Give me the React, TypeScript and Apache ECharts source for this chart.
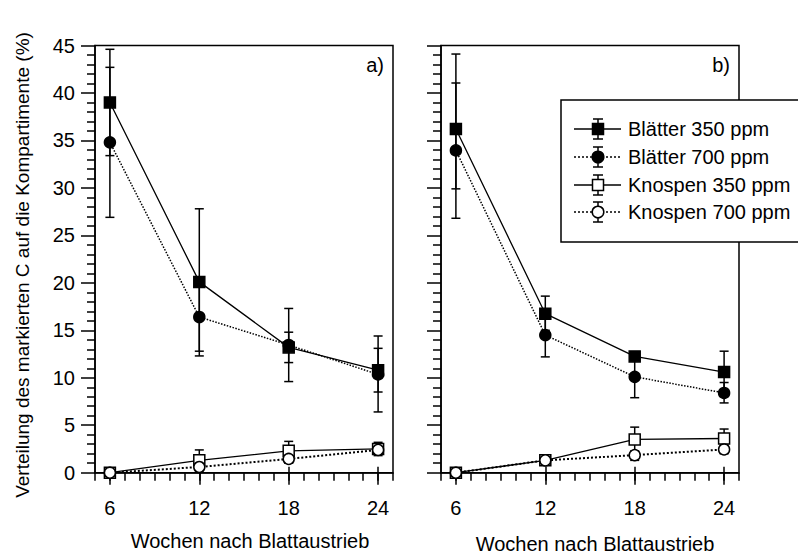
import React, { useEffect, useRef } from "react";
import * as echarts from "echarts";

// ---------- data ----------
const weeks = [6, 12, 18, 24];
const xTickLabels = [6, 12, 18, 24];
const yMax = 45;

const seriesNames = ["Blätter 350 ppm", "Blätter 700 ppm", "Knospen 350 ppm", "Knospen 700 ppm"];

// panel a)
const aBlaetter350 = [39.0, 20.1, 13.2, 10.8];
const aBlaetter350Lo = [33.4, 12.3, 11.6, 8.5];
const aBlaetter350Hi = [44.6, 27.8, 14.8, 13.1];
const aBlaetter700 = [34.8, 16.4, 13.45, 10.35];
const aBlaetter700Lo = [26.9, 12.8, 9.6, 6.4];
const aBlaetter700Hi = [42.7, 20.0, 17.3, 14.4];
const aKnospen350 = [0.0, 1.3, 2.3, 2.5];
const aKnospen350Lo = [0.0, 0.2, 1.3, 1.8];
const aKnospen350Hi = [0.0, 2.4, 3.3, 3.2];
const aKnospen700 = [0.0, 0.6, 1.45, 2.4];
const aKnospen700Lo = [0.0, 0.3, 1.0, 2.0];
const aKnospen700Hi = [0.0, 0.9, 1.9, 2.9];

// panel b)
const bBlaetter350 = [36.2, 16.75, 12.25, 10.6];
const bBlaetter350Lo = [29.9, 15.0, 11.9, 8.5];
const bBlaetter350Hi = [44.1, 18.6, 12.6, 12.8];
const bBlaetter700 = [33.95, 14.5, 10.1, 8.4];
const bBlaetter700Lo = [26.8, 12.2, 7.9, 7.35];
const bBlaetter700Hi = [41.05, 16.8, 12.3, 9.5];
const bKnospen350 = [0.0, 1.3, 3.5, 3.6];
const bKnospen350Lo = [0.0, 1.0, 2.2, 2.6];
const bKnospen350Hi = [0.0, 1.6, 4.8, 4.6];
const bKnospen700 = [0.0, 1.3, 1.85, 2.45];
const bKnospen700Lo = [0.0, 1.1, 1.3, 2.0];
const bKnospen700Hi = [0.0, 1.5, 2.3, 2.9];

const panelLabels = ["a)", "b)"];
const xTitle = "Wochen nach Blattaustrieb";
const yTitle = "Verteilung des markierten C auf die Kompartimente (%)";

// ---------- styles ----------
const FONT = "'Liberation Sans', Arial, Helvetica, sans-serif";
const BLACK = "#000";
const seriesStyle = [
  { symbol: "rect", filled: true, dash: "solid", width: 1.3 },
  { symbol: "circle", filled: true, dash: "dotted", width: 1.5 },
  { symbol: "rect", filled: false, dash: "solid", width: 1.3 },
  { symbol: "circle", filled: false, dash: "dotted", width: 2 },
];

const panels = [
  {
    vals: [aBlaetter350, aBlaetter700, aKnospen350, aKnospen700],
    lo: [aBlaetter350Lo, aBlaetter700Lo, aKnospen350Lo, aKnospen700Lo],
    hi: [aBlaetter350Hi, aBlaetter700Hi, aKnospen350Hi, aKnospen700Hi],
  },
  {
    vals: [bBlaetter350, bBlaetter700, bKnospen350, bKnospen700],
    lo: [bBlaetter350Lo, bBlaetter700Lo, bKnospen350Lo, bKnospen700Lo],
    hi: [bBlaetter350Hi, bBlaetter700Hi, bKnospen350Hi, bKnospen700Hi],
  },
];

const gridRects = [
  { left: 95, top: 45.5, width: 298, height: 427.2 },
  { left: 441, top: 45.5, width: 298, height: 427.2 },
];

function errRender(params: any, api: any) {
  const x = api.value(0);
  const lo = api.value(1);
  const hi = api.value(2);
  if (lo === hi) return null;
  const pLo = api.coord([x, lo]);
  const pHi = api.coord([x, hi]);
  const w = 4.5;
  const st = { stroke: BLACK, lineWidth: 1.5 };
  return {
    type: "group",
    children: [
      { type: "line", shape: { x1: pLo[0], y1: pLo[1], x2: pHi[0], y2: pHi[1] }, style: st },
      { type: "line", shape: { x1: pLo[0] - w, y1: pLo[1], x2: pLo[0] + w, y2: pLo[1] }, style: st },
      { type: "line", shape: { x1: pHi[0] - w, y1: pHi[1], x2: pHi[0] + w, y2: pHi[1] }, style: st },
    ],
  };
}

function buildOption() {
  const grid: any[] = [];
  const xAxis: any[] = [];
  const yAxis: any[] = [];
  const series: any[] = [];
  const lineSt = { color: BLACK, width: 1.5 };

  gridRects.forEach((r, g) => {
    grid.push({ ...r, show: true, borderColor: BLACK, borderWidth: 1.5, backgroundColor: "transparent" });
    // minor (every week) ticks, outward
    xAxis.push({
      gridIndex: g, type: "value", position: "bottom", min: 5, max: 25, interval: 1,
      axisLine: { show: true, onZero: false, lineStyle: lineSt },
      axisTick: { show: true, length: 8, lineStyle: lineSt },
      axisLabel: { show: false },
      splitLine: { show: false },
    });
    // major ticks outward + labels
    xAxis.push({
      gridIndex: g, type: "value", position: "bottom", min: 5, max: 25,
      axisLine: { show: false, onZero: false },
      axisTick: { show: true, length: 12, customValues: weeks, lineStyle: lineSt },
      axisLabel: { show: true, customValues: xTickLabels, fontSize: 20, color: BLACK, fontFamily: FONT, margin: 25 },
      splitLine: { show: false },
    });
    // major ticks inward
    xAxis.push({
      gridIndex: g, type: "value", position: "bottom", min: 5, max: 25,
      axisLine: { show: false, onZero: false },
      axisTick: { show: true, inside: true, length: 6, customValues: weeks, lineStyle: lineSt },
      axisLabel: { show: false },
      splitLine: { show: false },
    });
    yAxis.push({
      gridIndex: g, type: "value", min: 0, max: yMax, interval: 5,
      axisLine: { show: true, onZero: false, lineStyle: lineSt },
      axisTick: { show: true, length: 14, lineStyle: lineSt },
      minorTick: { show: true, splitNumber: 5, length: 8, lineStyle: lineSt },
      axisLabel: { show: g === 0, fontSize: 20, color: BLACK, fontFamily: FONT, margin: 20 },
      splitLine: { show: false },
      minorSplitLine: { show: false },
    });

    const p = panels[g];
    p.vals.forEach((vals, s) => {
      const stl = seriesStyle[s];
      series.push({
        type: "custom",
        name: seriesNames[s] + " err",
        xAxisIndex: g * 3,
        yAxisIndex: g,
        z: 2,
        renderItem: errRender,
        encode: { x: 0, y: [1, 2] },
        data: weeks.map((w, i) => [w, p.lo[s][i], p.hi[s][i]]),
      });
      series.push({
        type: "line",
        name: seriesNames[s],
        xAxisIndex: g * 3,
        yAxisIndex: g,
        z: 3 + (s < 2 ? 1 : 0),
        symbol: stl.symbol,
        symbolSize: 11,
        showAllSymbol: true,
        lineStyle: { color: BLACK, width: stl.width, type: stl.dash },
        itemStyle: { color: stl.filled ? BLACK : "#fff", borderColor: BLACK, borderWidth: 1.5 },
        data: weeks.map((w, i) => [w, vals[i]]),
      });
    });
  });

  // graphic: titles, panel labels, legend
  const graphic: any[] = [];
  graphic.push({
    type: "text", x: 22, y: 265, rotation: Math.PI / 2,
    style: { text: yTitle, fontSize: 19, fontFamily: FONT, fill: BLACK, textAlign: "center", textVerticalAlign: "middle" },
  });
  const xTitlePos = [
    { x: 250, y: 541 },
    { x: 595, y: 544 },
  ];
  xTitlePos.forEach((p) =>
    graphic.push({
      type: "text", x: p.x, y: p.y,
      style: { text: xTitle, fontSize: 20, fontFamily: FONT, fill: BLACK, textAlign: "center", textVerticalAlign: "middle" },
    })
  );
  gridRects.forEach((r, g) =>
    graphic.push({
      type: "text", x: r.left + r.width - 9, y: 65,
      style: { text: panelLabels[g], fontSize: 20, fontFamily: FONT, fill: BLACK, textAlign: "right", textVerticalAlign: "middle" },
    })
  );

  // legend
  const legendChildren: any[] = [];
  legendChildren.push({
    type: "rect", shape: { x: 561, y: 100, width: 260, height: 142 },
    style: { fill: "#fff", stroke: BLACK, lineWidth: 1.5 },
  });
  const rowY = [129, 157, 185, 212];
  seriesNames.forEach((name, s) => {
    const stl = seriesStyle[s];
    const y = rowY[s];
    const cx = 598;
    const st = { stroke: BLACK, lineWidth: 1.5 };
    legendChildren.push({
      type: "line", shape: { x1: 574, y1: y, x2: 621, y2: y },
      style: { stroke: BLACK, lineWidth: stl.dash === "solid" ? 1.3 : 1.6, lineDash: stl.dash === "solid" ? null : [2, 2] },
    });
    legendChildren.push({ type: "line", shape: { x1: cx, y1: y - 10, x2: cx, y2: y + 10 }, style: st });
    legendChildren.push({ type: "line", shape: { x1: cx - 5, y1: y - 10, x2: cx + 5, y2: y - 10 }, style: st });
    legendChildren.push({ type: "line", shape: { x1: cx - 5, y1: y + 10, x2: cx + 5, y2: y + 10 }, style: st });
    const fill = stl.filled ? BLACK : "#fff";
    if (stl.symbol === "rect") {
      legendChildren.push({ type: "rect", shape: { x: cx - 5.5, y: y - 5.5, width: 11, height: 11 }, style: { fill, stroke: BLACK, lineWidth: 1.5 } });
    } else {
      legendChildren.push({ type: "circle", shape: { cx, cy: y, r: 5.8 }, style: { fill, stroke: BLACK, lineWidth: 1.5 } });
    }
    legendChildren.push({
      type: "text", x: 628, y,
      style: { text: name, fontSize: 20, fontFamily: FONT, fill: BLACK, textAlign: "left", textVerticalAlign: "middle" },
    });
  });
  graphic.push({ type: "group", z: 100, children: legendChildren });

  return {
    animation: false,
    backgroundColor: "#fff",
    textStyle: { fontFamily: FONT },
    grid, xAxis, yAxis, series, graphic,
  };
}

export default function App() {
  const ref = useRef<HTMLDivElement>(null);
  useEffect(() => {
    if (!ref.current) return;
    const chart = echarts.init(ref.current, undefined, { renderer: "svg" });
    chart.setOption(buildOption() as any);
    return () => chart.dispose();
  }, []);
  return <div ref={ref} style={{ width: 798, height: 555, position: "absolute", left: 0, top: 0 }} />;
}
